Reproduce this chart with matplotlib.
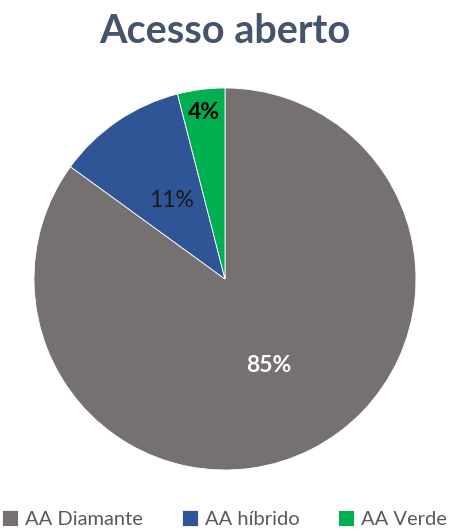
import numpy as np
import matplotlib
matplotlib.use('Agg')
import matplotlib.pyplot as plt

plt.rcParams['font.family'] = ['Lato', 'DejaVu Sans']

# data
categories = ['AA Diamante', 'AA híbrido', 'AA Verde']
shares = [85, 11, 4]
colors = ['#767171', '#2F5597', '#00B050']
label_colors = ['white', '#1a1a1a', 'black']
label_weights = ['bold', 'normal', 'bold']
label_dist = [0.51, 0.50, 0.88]

fig = plt.figure(figsize=(4.49, 5.31), dpi=100)
ax = fig.add_axes([0.0757, 0.1149, 0.8508, 0.7194])

wedges, texts, autotexts = ax.pie(shares, colors=colors, startangle=90, counterclock=False,
                                  autopct='%1.0f%%', pctdistance=0.5,
                                  wedgeprops=dict(edgecolor='white', linewidth=0.6))
ax.set_xlim(-1, 1)
ax.set_ylim(-1, 1)
ax.set_aspect('equal')

### move the percent labels
for w, t, c, fw, d in zip(wedges, autotexts, label_colors, label_weights, label_dist):
    mid = np.deg2rad((w.theta1 + w.theta2) / 2)
    t.set_position((d * np.cos(mid), d * np.sin(mid)))
    t.set_color(c)
    t.set_fontweight(fw)
    t.set_fontsize(16.5)

fig.text(0.5, 0.919, 'Acesso aberto', ha='center', va='baseline',
         fontsize=28.5, fontweight='bold', color='#44546A')

fig.legend(wedges, categories, ncol=3, loc='center', bbox_to_anchor=(0.5, 1 - 519 / 531),
           frameon=False, fontsize=14.5, labelcolor='#595959',
           handlelength=0.8, handleheight=0.8, handletextpad=0.35, columnspacing=1.9,
           borderaxespad=0, borderpad=0)

fig.savefig('out.png', dpi=100)
